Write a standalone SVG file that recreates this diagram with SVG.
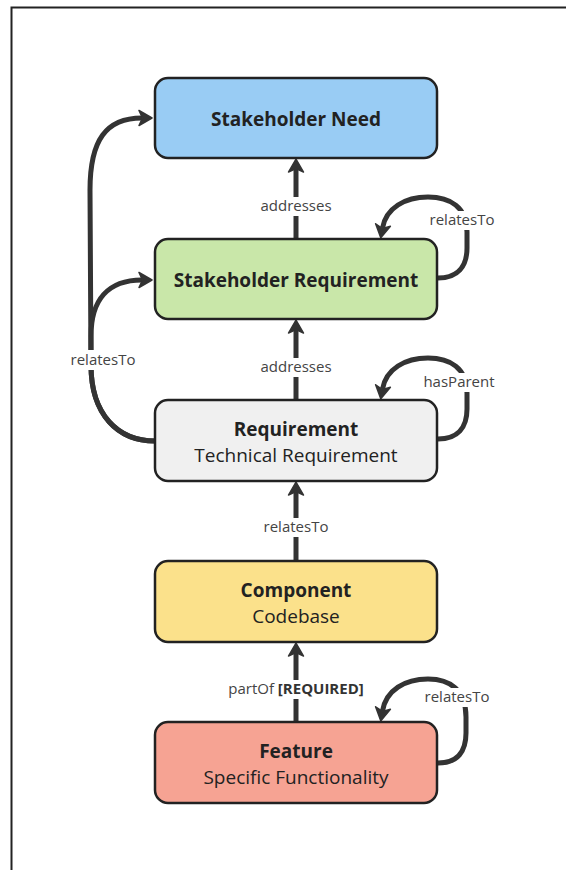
<svg xmlns="http://www.w3.org/2000/svg" width="566" height="870" viewBox="0 0 566 870">
  <defs>
    <marker id="arrow" viewBox="0 0 15 18" refX="4" refY="9" markerWidth="15" markerHeight="18" markerUnits="userSpaceOnUse" orient="auto">
      <path d="M1,1.5 L14,9 L1,16.5 L4.5,9 Z" fill="#333" stroke="#333" stroke-width="1.5" stroke-linejoin="round"/>
    </marker>
  </defs>
  <style>
    .node rect { stroke: #222; stroke-width: 2.5; }
    .title { font-family: "Open Sans", "Noto Sans", sans-serif; font-size: 19px; font-weight: 700; fill: #222; text-anchor: middle; }
    .sub { font-family: "Open Sans", "Noto Sans", sans-serif; font-size: 19px; fill: #222; text-anchor: middle; }
    .edge { fill: none; stroke: #333; stroke-width: 5; marker-end: url(#arrow); }
    .lbl-bg { fill: #fff; }
    .lbl { font-family: "Open Sans", "Noto Sans", sans-serif; font-size: 15px; fill: #444; text-anchor: middle; }
    .lbl .req { font-weight: 700; fill: #333; }
  </style>

  <!-- frame -->
  <rect x="11.5" y="7.5" width="620" height="900" fill="#fff" stroke="#222" stroke-width="2"/>

  <!-- connectors -->
  <g id="connectors">
    <!-- straight upward links -->
    <path class="edge" d="M296,239 L296,169"/>
    <path class="edge" d="M296,400 L296,330"/>
    <path class="edge" d="M296,561 L296,492"/>
    <path class="edge" d="M296,722 L296,653"/>

    <!-- Requirement to Stakeholder Need / Stakeholder Requirement -->
    <path class="edge" d="M155,441 C118,441 91,415 91,365 L90,190 C90,140 106,118 142,118"/>
    <path class="edge" d="M155,441 C118,441 91,415 91,365 L91,336 C91,300 108,280 142,280"/>

    <!-- self loops -->
    <path class="edge" d="M438,278 C458,278 467,266 467,248 L467,232 C467,207 450,197 428,197 C405,197 386,208 382.5,228"/>
    <path class="edge" d="M438,439 C458,439 467,427 467,409 L467,393 C467,368 450,358 428,358 C405,358 386,369 382.5,389"/>
    <path class="edge" d="M438,763 C458,763 466,751 466,733 L466,717 C466,690 450,679 428,679 C405,679 386,690 382.5,711"/>

    <!-- edge labels -->
    <g class="lbl">
      <rect class="lbl-bg" x="257" y="197" width="78" height="19"/>
      <text x="296" y="211">addresses</text>
      <rect class="lbl-bg" x="257" y="358" width="78" height="19"/>
      <text x="296" y="372">addresses</text>
      <rect class="lbl-bg" x="260" y="518" width="72" height="19"/>
      <text x="296" y="532">relatesTo</text>
      <rect class="lbl-bg" x="224" y="680" width="144" height="19"/>
      <text x="296" y="694">partOf <tspan class="req">[REQUIRED]</tspan></text>
      <rect class="lbl-bg" x="67" y="350" width="72" height="20"/>
      <text x="103" y="365">relatesTo</text>
      <rect class="lbl-bg" x="426" y="211" width="72" height="19"/>
      <text x="462" y="225">relatesTo</text>
      <rect class="lbl-bg" x="422" y="373" width="74" height="19"/>
      <text x="459" y="387">hasParent</text>
      <rect class="lbl-bg" x="422" y="688" width="70" height="19"/>
      <text x="457" y="702">relatesTo</text>
    </g>
  </g>

  <!-- nodes -->
  <g id="stakeholder-need" class="node">
    <rect x="155" y="78" width="282" height="80" rx="13" fill="#99CCF4"/>
    <text class="title" x="296" y="126">Stakeholder Need</text>
  </g>
  <g id="stakeholder-requirement" class="node">
    <rect x="155" y="239" width="282" height="80" rx="13" fill="#C9E7A9"/>
    <text class="title" x="296" y="287">Stakeholder Requirement</text>
  </g>
  <g id="requirement" class="node">
    <rect x="155" y="400" width="282" height="81" rx="13" fill="#F0F0F0"/>
    <text class="title" x="296" y="436">Requirement</text>
    <text class="sub" x="296" y="462">Technical Requirement</text>
  </g>
  <g id="component" class="node">
    <rect x="155" y="561" width="282" height="81" rx="13" fill="#FBE18B"/>
    <text class="title" x="296" y="597">Component</text>
    <text class="sub" x="296" y="623">Codebase</text>
  </g>
  <g id="feature" class="node">
    <rect x="155" y="722" width="282" height="81" rx="13" fill="#F6A393"/>
    <text class="title" x="296" y="758">Feature</text>
    <text class="sub" x="296" y="784">Specific Functionality</text>
  </g>
</svg>
